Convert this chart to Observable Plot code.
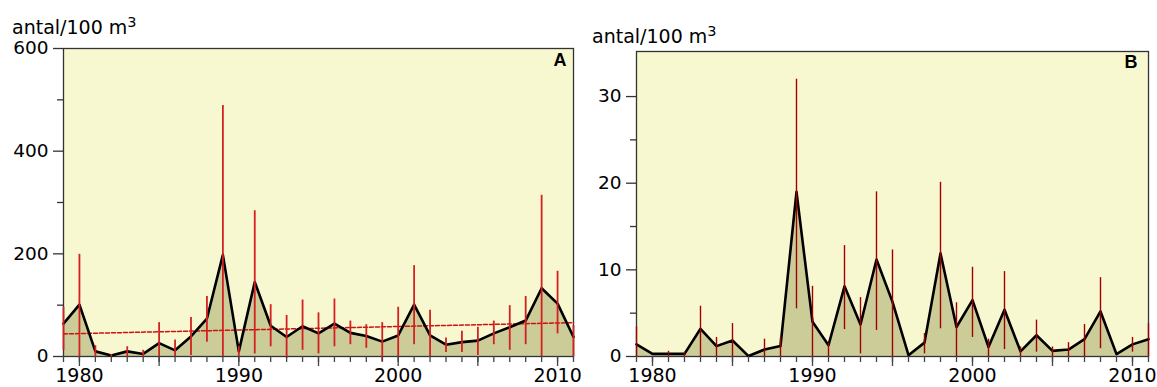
<!DOCTYPE html>
<html>
<head>
<meta charset="utf-8">
<script src="https://cdn.jsdelivr.net/npm/d3@7"></script>
<script src="https://cdn.jsdelivr.net/npm/@observablehq/plot@0.6"></script>
<style>
  body { margin: 0; background: #fff; }
  #wrap { display: flex; width: 1157px; height: 387px; }
  #wrap svg { display: block; flex: none; }
</style>
</head>
<body>
<div id="wrap"></div>
<script>
// ---- data ----
const years = [1979, 1980, 1981, 1982, 1983, 1984, 1985, 1986, 1987, 1988, 1989, 1990, 1991, 1992, 1993, 1994, 1995, 1996, 1997, 1998, 1999, 2000, 2001, 2002, 2003, 2004, 2005, 2006, 2007, 2008, 2009, 2010, 2011];

// Panel A
const meanA = [64, 101, 10, 2, 10, 5, 26, 12, 39, 74, 198, 10, 145, 60, 38, 59, 45, 64, 46, 40, 29, 41, 101, 41, 23, 28, 31, 45, 57, 70, 133, 103, 38];
const hiA   = [96, 199, 21, 4, 19, 12, 66, 32, 76, 117, 489, 20, 284, 101, 80, 110, 85, 112, 69, 62, 66, 96, 177, 90, 36, 49, 57, 69, 99, 117, 314, 166, 60];
const loA   = [12, 0, 0, 0, 0, 0, 0, 0, 2, 28, 0, 0, 5, 19, -4, 12, 5, 19, 23, 16, -10, 0, 23, 0, 8, 8, 2, 23, 12, 23, 0, 44, 0];
const trendYearsA = [1979, 2011];
const trendA = [44, 66];

// Panel B
const meanB = [1.4, 0.3, 0.3, 0.3, 3.2, 1.2, 1.85, 0.05, 0.8, 1.2, 19.0, 4.0, 1.3, 8.1, 3.7, 11.2, 6.3, 0.15, 1.6, 11.9, 3.4, 6.5, 1.1, 5.4, 0.6, 2.45, 0.65, 0.8, 2.0, 5.2, 0.27, 1.4, 2.0];
const hiB   = [3.4, 0.3, 0.6, 0.5, 5.8, 2.2, 3.8, 0.05, 2.0, 2.2, 32.0, 8.1, 1.5, 12.8, 6.8, 19.0, 12.3, 0.15, 2.65, 20.1, 6.2, 10.3, 2.0, 9.8, 1.1, 4.2, 1.1, 1.6, 3.7, 9.1, 0.27, 2.2, 3.8];
const loB   = [0, 0.3, 0, 0, 0, 0, 0, 0.05, 0, 0, 5.5, 0, 0, 3.1, 0.3, 3.0, 0, 0.15, 0.3, 3.2, 0, 2.2, 0, 0.8, 0, 0.5, 0, 0, 0, 0.9, 0.27, 0.5, 0];

// ticks
const xLabelTicks = [1980, 1990, 2000, 2010];
const xMajorTicks = [1980, 1985, 1990, 1995, 2000, 2005, 2010];
const yMajorA = [0, 200, 400, 600];
const yMinorA = [100, 300, 500];
const yMajorB = [0, 10, 20, 30];
const yMinorB = [5, 15, 25];
const unitLabel = "antal/100 m";
const unitSup = "3";

// ---- styles ----
const BG = "#f8f8d0";
const AREA = "#cccc99";
const FONT = "DejaVu Sans";

function panel(o) {
  const data = years.map((year, i) => ({year, mean: o.mean[i], lo: o.lo[i], hi: o.hi[i]}));
  const marks = [
    Plot.frame({fill: BG, stroke: null}),
    Plot.areaY(data, {x: "year", y: "mean", fill: AREA}),
    Plot.frame({stroke: "#333", strokeWidth: 1.3})
  ];
  if (o.trend) {
    const td = o.trend.x.map((x, i) => ({x, y: o.trend.y[i]}));
    marks.push(Plot.line(td, {x: "x", y: "y", stroke: "#cc1111", strokeWidth: 1.5, strokeDasharray: "4,2"}));
  }
  marks.push(
    Plot.line(data, {x: "year", y: "mean", stroke: "#000", strokeWidth: 2.6}),
    Plot.ruleX(data, {x: "year", y1: "lo", y2: "hi", stroke: o.barColor, strokeWidth: o.barWidth}),
    // y axis
    Plot.axisY(o.yMajor, {tickSize: 10, tickPadding: 5, fontSize: 18.5, fontFamily: FONT, stroke: "#333", strokeWidth: 1.3, label: null}),
    Plot.axisY(o.yMinor, {tickSize: 6, text: null, stroke: "#333", strokeWidth: 1.3, label: null}),
    // x axis
    Plot.axisX(years, {tickSize: 6, text: null, stroke: "#444", strokeWidth: 1.3, label: null}),
    Plot.axisX(xMajorTicks, {tickSize: 10, text: null, stroke: "#444", strokeWidth: 1.3, label: null}),
    Plot.axisX(xLabelTicks, {tickSize: 0, tickPadding: 12, fontSize: 19, fontFamily: FONT, tickFormat: d => String(d), label: null}),
    Plot.text([o.letter], {text: d => d, frameAnchor: "top-right", dx: o.letterDx, dy: o.letterDy, lineAnchor: "top", textAnchor: "end", fontWeight: "bold", fontSize: 18, fontFamily: "Liberation Sans", fill: "#000"})
  );
  const svg = Plot.plot({
    width: o.width,
    height: 387,
    marginLeft: o.ml,
    marginRight: o.mr,
    marginTop: o.mt,
    marginBottom: 31,
    style: {background: "transparent", fontFamily: FONT, overflow: "visible"},
    x: {domain: [1979, 2011]},
    y: {domain: o.yDomain},
    marks
  });
  const t = d3.select(svg).append("text")
    .attr("x", 12).attr("y", o.labelY)
    .attr("text-anchor", "start")
    .attr("font-family", FONT).attr("font-size", 19).attr("fill", "#000");
  t.append("tspan").text(unitLabel);
  t.append("tspan").attr("dy", -7).attr("font-size", 14.5).text(unitSup);
  return svg;
}

const wrap = document.getElementById("wrap");
wrap.appendChild(panel({
  width: 580, ml: 63, mr: 7, mt: 48,
  mean: meanA, lo: loA, hi: hiA,
  yDomain: [0, 600], yMajor: yMajorA, yMinor: yMinorA,
  letter: "A", letterDx: -7, letterDy: 5,
  barColor: "#d42020", barWidth: 1.8,
  trend: {x: trendYearsA, y: trendA},
  labelY: 34
}));
wrap.appendChild(panel({
  width: 577, ml: 56, mr: 9, mt: 51,
  mean: meanB, lo: loB, hi: hiB,
  yDomain: [0, 35.2], yMajor: yMajorB, yMinor: yMinorB,
  letter: "B", letterDx: -11, letterDy: 4,
  barColor: "#a00000", barWidth: 1.4,
  trend: null,
  labelY: 43
}));
</script>
</body>
</html>
